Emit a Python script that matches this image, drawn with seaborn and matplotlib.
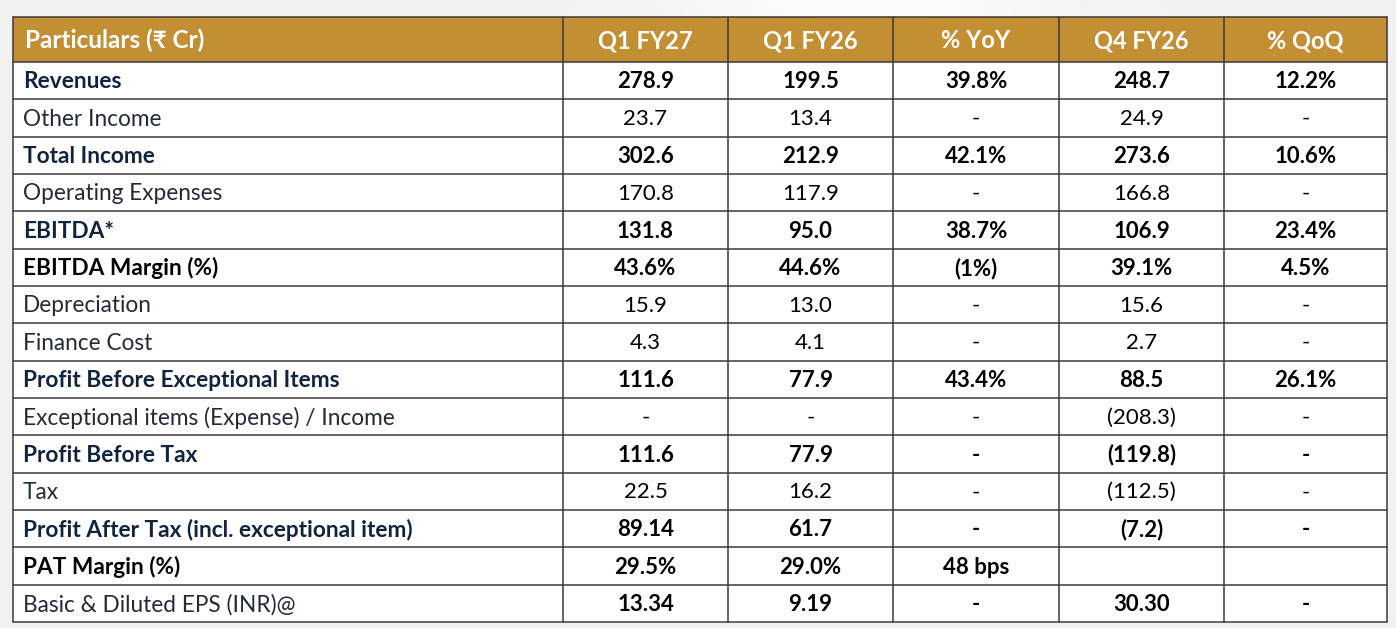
import numpy as np
import matplotlib
matplotlib.use("Agg")
import matplotlib.pyplot as plt
from matplotlib.patches import Rectangle
import seaborn as sns

# ---- data ----
header = ["Particulars (₹ Cr)", "Q1 FY27", "Q1 FY26", "% YoY", "Q4 FY26", "% QoQ"]
labels = [
    "Revenues", "Other Income", "Total Income", "Operating Expenses", "EBITDA*",
    "EBITDA Margin (%)", "Depreciation", "Finance Cost", "Profit Before Exceptional Items",
    "Exceptional items (Expense) / Income", "Profit Before Tax", "Tax",
    "Profit After Tax (incl. exceptional item)", "PAT Margin (%)", "Basic & Diluted EPS (INR)@",
]
q1_fy27 = ["278.9", "23.7", "302.6", "170.8", "131.8", "43.6%", "15.9", "4.3", "111.6",
           "-", "111.6", "22.5", "89.14", "29.5%", "13.34"]
q1_fy26 = ["199.5", "13.4", "212.9", "117.9", "95.0", "44.6%", "13.0", "4.1", "77.9",
           "-", "77.9", "16.2", "61.7", "29.0%", "9.19"]
yoy = ["39.8%", "-", "42.1%", "-", "38.7%", "(1%)", "-", "-", "43.4%",
       "-", "-", "-", "-", "48 bps", "-"]
q4_fy26 = ["248.7", "24.9", "273.6", "166.8", "106.9", "39.1%", "15.6", "2.7", "88.5",
           "(208.3)", "(119.8)", "(112.5)", "(7.2)", "", "30.30"]
qoq = ["12.2%", "-", "10.6%", "-", "23.4%", "4.5%", "-", "-", "26.1%",
       "-", "-", "-", "-", "", "-"]
bold_label = [True, False, True, False, True, True, False, False, True,
              False, True, False, True, True, False]
bold_values = [True, False, True, False, True, True, False, False, True,
               False, True, False, True, True, True]
black_label = ["EBITDA Margin (%)", "PAT Margin (%)"]

columns = [q1_fy27, q1_fy26, yoy, q4_fy26, qoq]

# ---- layout ----
W, H = 1396, 628
col_edges = [13, 563, 728, 893, 1059, 1224, 1387]
top, head_bot, bottom = 17, 62, 622
n = len(labels)
row_h = (bottom - head_bot) / n

GOLD = "#c28f33"
NAVY = "#10233f"
LINE = "#3a3a3a"

sns.set_theme(style="white")
plt.rcParams["font.family"] = ["Lato", "Noto Sans", "DejaVu Sans"]

fig = plt.figure(figsize=(W / 100, H / 100), dpi=100)
ax = fig.add_axes([0, 0, 1, 1])
ax.set_xlim(0, W)
ax.set_ylim(H, 0)
ax.axis("off")

# soft grey background with a lighter streak at top right
gx = np.linspace(0, 1, 200)
gy = np.linspace(0, 1, 100)
GX, GY = np.meshgrid(gx, gy)
bg = 0.945 + 0.04 * np.exp(-((GX - 0.62 - 0.3 * GY) ** 2) / 0.02) * (1 - GY)
ax.imshow(bg, cmap="gray", vmin=0, vmax=1, extent=(0, W, H, 0), aspect="auto", zorder=0)

# table body + header
ax.add_patch(Rectangle((col_edges[0], top), col_edges[-1] - col_edges[0], bottom - top,
                       facecolor="white", edgecolor="none", zorder=1))
ax.add_patch(Rectangle((col_edges[0], top), col_edges[-1] - col_edges[0], head_bot - top,
                       facecolor=GOLD, edgecolor="none", zorder=2))

# grid lines
for i in range(n + 1):
    y = head_bot + i * row_h
    ax.plot([col_edges[0], col_edges[-1]], [y, y], color=LINE, lw=1.1, zorder=3)
ax.plot([col_edges[0], col_edges[-1]], [top, top], color=LINE, lw=1.1, zorder=3)
for x in col_edges:
    ax.plot([x, x], [top, bottom], color=LINE, lw=1.1, zorder=3)

# header text
hy = (top + head_bot) / 2 + 1
ax.text(col_edges[0] + 12, hy, header[0], color="white", fontsize=17.5,
        fontweight="bold", ha="left", va="center", zorder=4)
for j, h in enumerate(header[1:]):
    cx = (col_edges[j + 1] + col_edges[j + 2]) / 2
    ax.text(cx, hy, h, color="white", fontsize=17, fontweight="bold",
            ha="center", va="center", zorder=4)

# body text
for i, lab in enumerate(labels):
    cy = head_bot + (i + 0.5) * row_h + 1
    colr = "black" if lab in black_label else (NAVY if bold_label[i] else "#222b36")
    ax.text(col_edges[0] + 10, cy, lab, color=colr, fontsize=16.3,
            fontweight="bold" if bold_label[i] else "normal",
            ha="left", va="center", zorder=4)
    for j, col in enumerate(columns):
        cx = (col_edges[j + 1] + col_edges[j + 2]) / 2
        ax.text(cx, cy, col[i], color="black", fontsize=16,
                fontweight="bold" if bold_values[i] else "normal",
                ha="center", va="center", zorder=4)

fig.savefig("out.png", dpi=100)
